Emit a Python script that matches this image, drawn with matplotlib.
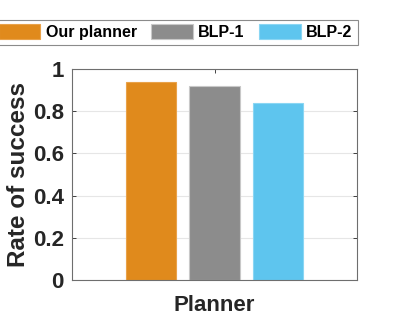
import numpy as np
import matplotlib.pyplot as plt

plt.rcParams['font.family'] = ['Liberation Sans', 'DejaVu Sans']
plt.rcParams['font.weight'] = 'bold'

planners = ["Our planner", "BLP-1", "BLP-2"]
success = [0.937, 0.918, 0.837]
colors = ["#E08A1C", "#8C8C8C", "#5EC5EE"]
edges = ["#E9A24A", "#C8C8C8", "#8AD6F3"]

fig = plt.figure(figsize=(3.95, 3.15), dpi=100)
ax = fig.add_axes([72 / 395, 1 - 280 / 315, 285 / 395, 211 / 315])

offsets = np.array([-1, 0, 1]) * 0.2228
for i in range(len(planners)):
    ax.bar(1 + offsets[i], success[i], width=0.177, color=colors[i],
           edgecolor=edges[i], linewidth=0.8, label=planners[i], zorder=2)

ax.set_xlim(0.5, 1.5)
ax.set_ylim(0, 1)
ax.set_xticks([1])
ax.set_xticklabels([""])
ax.set_yticks([0, 0.2, 0.4, 0.6, 0.8, 1])
ax.set_yticklabels(["0", "0.2", "0.4", "0.6", "0.8", "1"])
ax.tick_params(axis='y', labelsize=16, length=3, width=0.6, direction='in',
               right=True, pad=6, colors='#262626')
ax.tick_params(axis='x', length=3, width=0.6, direction='in', top=True, colors='#262626')
ax.grid(axis='y', color='#E6E6E6', linewidth=0.8, zorder=0)
for s in ax.spines.values():
    s.set_color('#6E6E6E')
    s.set_linewidth(0.8)

ax.set_ylabel("Rate of success", fontsize=17.5, fontweight='bold', color='#262626', labelpad=2)
ax.set_xlabel("Planner", fontsize=16, fontweight='bold', color='#262626', labelpad=7)

leg = fig.legend(loc='upper right', bbox_to_anchor=(357.5 / 395, 1 - 19.5 / 315),
                 ncol=3, fontsize=11.5, frameon=True, fancybox=False,
                 handlelength=2.6, handleheight=1.0, columnspacing=0.9,
                 handletextpad=0.35, borderpad=0.3, borderaxespad=0)
leg.get_frame().set_edgecolor('#6E6E6E')
leg.get_frame().set_linewidth(0.8)

fig.savefig("out.png", dpi=100)
